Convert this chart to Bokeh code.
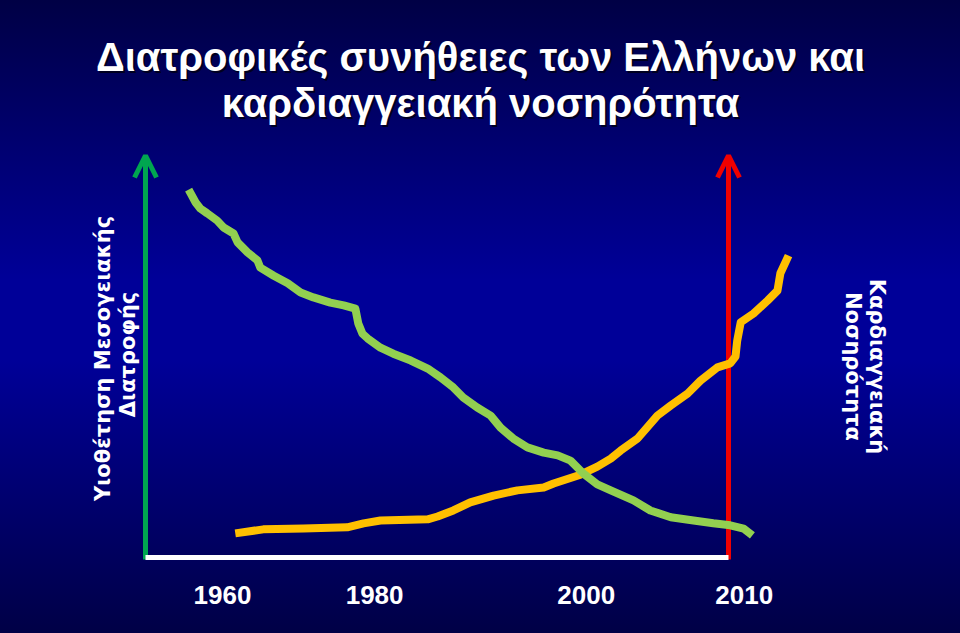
import math
from bokeh.plotting import figure
from bokeh.models import Range1d, Arrow, OpenHead, LinearAxis, FixedTicker, GlobalInlineStyleSheet
from bokeh.core.properties import value
from bokeh.embed import file_html
from bokeh.resources import INLINE

# ---------------- data (index units: 0..100 along each arrow) ----------------
diet_x = [7.4, 8.6, 9.4, 10.6, 12.3, 13.4, 15.1, 15.8, 17.5, 19.2, 19.7, 22.0, 24.4, 26.6, 28.8,
          31.7, 34.0, 36.0, 36.5, 37.2, 38.1, 40.3, 42.5, 45.5, 48.4, 50.6, 52.8, 54.5, 56.9, 59.2,
          60.9, 63.1, 65.5, 68.3, 70.7, 72.9, 75.1, 77.5, 79.8, 83.7, 86.6, 90.1, 94.0, 97.4, 100.3,
          102.6, 104.1]
diet_y = [91.5, 88.3, 86.8, 85.6, 83.8, 82.1, 80.6, 78.4, 75.9, 73.9, 72.1, 70.1, 68.2, 65.9, 64.7,
          63.4, 62.7, 61.9, 58.2, 55.7, 54.5, 52.2, 50.7, 49.0, 47.0, 44.8, 42.3, 39.8, 37.3, 35.3,
          32.3, 29.6, 27.4, 26.1, 25.4, 24.1, 20.9, 18.2, 16.7, 14.2, 11.7, 10.0, 9.2, 8.5, 8.0,
          7.2, 5.5]

cvd_x = [15.4, 20.2, 27.1, 34.6, 37.4, 40.3, 48.4, 50.1, 52.8, 55.7, 59.7, 63.8, 68.3, 70.0, 74.6,
         77.5, 79.8, 81.5, 84.4, 87.8, 90.1, 93.0, 95.2, 98.1, 100.3, 101.2, 101.5, 102.1, 104.3,
         106.7, 108.4, 108.9, 110.3]
cvd_y = [6.0, 7.0, 7.2, 7.5, 8.5, 9.2, 9.5, 10.2, 11.7, 13.7, 15.4, 16.7, 17.4, 18.4, 20.6,
         22.6, 24.6, 26.6, 29.6, 35.3, 37.8, 40.8, 44.0, 47.3, 48.3, 50.0, 54.0, 58.5, 60.7,
         63.9, 66.4, 70.7, 75.1]

tick_labels = ["1960", "1980", "2000", "2010"]
tick_pos = [13.2, 39.3, 75.6, 102.7]

title_lines = ["Διατροφικές συνήθειες των Ελλήνων και", "καρδιαγγειακή νοσηρότητα"]
left_label = ["Υιοθέτηση Μεσογειακής", "Διατροφής"]
right_label = ["Καρδιαγγειακή", "Νοσηρότητα"]

axis_start, axis_end = 0, 100

# ---------------- layout helpers (page pixel -> index units) ----------------
def ux(X):
    return (X - 145) / 5.83

def vy(Y):
    return (557 - Y) / 4.02

W, H = 960, 633
FRAME_BOTTOM = 570
p = figure(width=W, height=H, output_backend="svg", toolbar_location=None,
           x_axis_type=None, y_axis_type=None, title=None,
           x_range=Range1d(ux(0), ux(W)), y_range=Range1d(vy(FRAME_BOTTOM), vy(0)),
           min_border_left=0, min_border_right=0, min_border_top=0,
           min_border_bottom=H - FRAME_BOTTOM)
p.background_fill_alpha = 0
p.border_fill_alpha = 0
p.outline_line_color = None
grad = "linear-gradient(to bottom, #000045 0%, #000098 44.2%, #000098 56.9%, #000046 100%)"
p.styles = {"background": grad}
p.stylesheets = [GlobalInlineStyleSheet(css=(
    "html{min-height:100%;background:" + grad + " fixed;} body{background:transparent;}"))]

# x axis (year labels)
xaxis = LinearAxis(ticker=FixedTicker(ticks=tick_pos),
                   major_label_overrides={t: l for t, l in zip(tick_pos, tick_labels)},
                   axis_line_color=None, major_tick_line_color=None, minor_tick_line_color=None,
                   major_tick_out=0, major_tick_in=0,
                   major_label_text_color="white", major_label_text_font="Liberation Sans",
                   major_label_text_font_style="bold", major_label_text_font_size="26px",
                   major_label_standoff=15)
p.add_layout(xaxis, "below")

# arrows
green_ax = "#00a650"
red_ax = "#f00000"
p.add_layout(Arrow(end=OpenHead(size=22, line_color=green_ax, line_width=5),
                   x_start=axis_start, y_start=axis_start - 0.5, x_end=axis_start, y_end=axis_end,
                   line_color=green_ax, line_width=5, level="underlay"))
p.add_layout(Arrow(end=OpenHead(size=22, line_color=red_ax, line_width=5),
                   x_start=axis_end, y_start=axis_start - 0.5, x_end=axis_end, y_end=axis_end,
                   line_color=red_ax, line_width=5, level="underlay"))

# white baseline
p.line([axis_start, axis_end], [axis_start, axis_start], line_color="white", line_width=5)

# curves
p.line(cvd_x, cvd_y, line_color="#ffc000", line_width=8, line_join="round", line_cap="butt")
p.line(diet_x, diet_y, line_color="#92d050", line_width=8, line_join="round", line_cap="butt")

# title with shadow
tx = [ux(480), ux(480)]
ty = [vy(56), vy(102)]
title_style = dict(text_font=value("Liberation Sans"), text_font_style="bold", text_font_size="40px",
                   text_align="center", text_baseline="alphabetic")
p.text(x=tx, y=ty, text=title_lines, x_offset=2, y_offset=2, text_color="#000010", text_alpha=0.8,
       **title_style)
p.text(x=tx, y=ty, text=title_lines, text_color="white", **title_style)

# side labels
side_style = dict(text_color="white", text_font=value("DejaVu Sans"), text_font_style="bold",
                  text_font_size="21px", text_align="center", text_baseline="middle")
p.text(x=[ux(102), ux(127)], y=[vy(358), vy(354)], text=left_label, angle=math.pi / 2, **side_style)
p.text(x=[ux(876), ux(852)], y=[vy(366), vy(366)], text=right_label, angle=-math.pi / 2, **side_style)

open("out.html", "w").write(file_html(p, INLINE))
